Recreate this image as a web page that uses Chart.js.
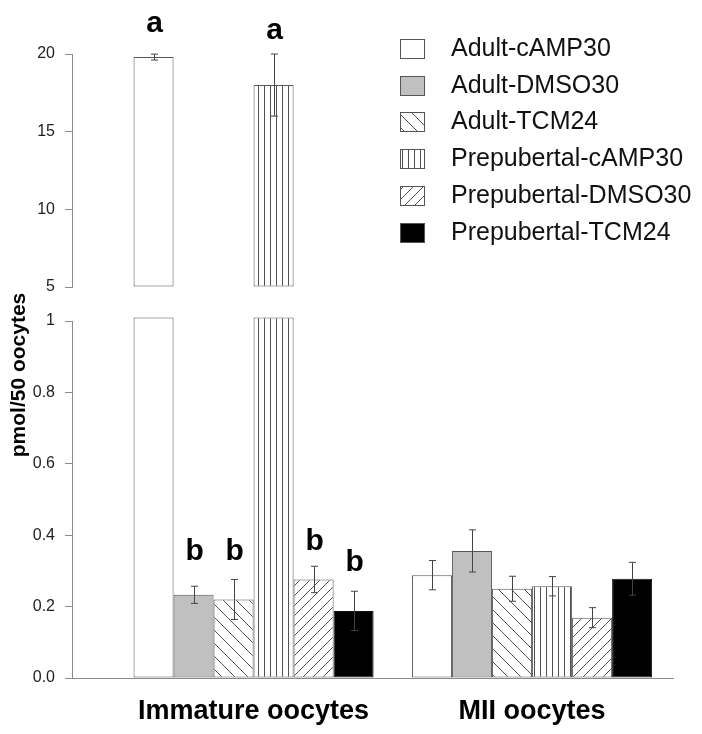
<!DOCTYPE html>
<html>
<head>
<meta charset="utf-8">
<script src="https://cdn.jsdelivr.net/npm/chart.js@4.4.1/dist/chart.umd.min.js"></script>
<style>
html, body { margin: 0; padding: 0; background: #ffffff; }
#wrap { position: relative; width: 702px; height: 734px; }
#wrap canvas { position: absolute; left: 0; top: 0; }
</style>
</head>
<body>
<div id="wrap">
  <canvas id="topPanel" width="702" height="734"></canvas>
  <canvas id="bottomPanel" width="702" height="734"></canvas>
</div>
<script>
// ---------------- data ----------------
const categories = ['Immature oocytes', 'MII oocytes'];
const seriesNames = ['Adult-cAMP30', 'Adult-DMSO30', 'Adult-TCM24',
                     'Prepubertal-cAMP30', 'Prepubertal-DMSO30', 'Prepubertal-TCM24'];

const adultCAMP30 = [19.8, 0.288];
const adultDMSO30 = [0.233, 0.356];
const adultTCM24  = [0.220, 0.250];
const prepCAMP30  = [18.0, 0.257];
const prepDMSO30  = [0.276, 0.169];
const prepTCM24   = [0.188, 0.278];

const adultCAMP30Err = [0.19, 0.041];
const adultDMSO30Err = [0.024, 0.059];
const adultTCM24Err  = [0.056, 0.035];
const prepCAMP30Err  = [2.0, 0.027];
const prepDMSO30Err  = [0.037, 0.028];
const prepTCM24Err   = [0.055, 0.046];

const adultCAMP30Letters = ['a', ''];
const adultDMSO30Letters = ['b', ''];
const adultTCM24Letters  = ['b', ''];
const prepCAMP30Letters  = ['a', ''];
const prepDMSO30Letters  = ['b', ''];
const prepTCM24Letters   = ['b', ''];

// letter baseline heights (data units of the panel the bar belongs to)
const adultCAMP30LetterY = [21.42, null];
const adultDMSO30LetterY = [0.331, null];
const adultTCM24LetterY  = [0.331, null];
const prepCAMP30LetterY  = [20.97, null];
const prepDMSO30LetterY  = [0.359, null];
const prepTCM24LetterY   = [0.300, null];

const topTicks = [5, 10, 15, 20];
const bottomTickLabels = ['0.0', '0.2', '0.4', '0.6', '0.8', '1'];
const yTitle = 'pmol/50 oocytes';

// ---------------- styles ----------------
const FONT = '"Liberation Sans", Arial, Helvetica, sans-serif';
const BORDER = '#555555';
const AXIS = '#8a8a8a';
const bottomMin = 0, bottomMax = 1, bottomCap = 1.01;
const topMin = 5, topMax = 20;

function makePattern(kind) {
  const c = document.createElement('canvas');
  let w = 10, h = 10;
  if (kind === 'back') { w = 13; h = 13; }
  if (kind === 'fwd') { w = 10; h = 10; }
  if (kind === 'vert') { w = 6; h = 6; }
  c.width = w; c.height = h;
  const g = c.getContext('2d');
  g.fillStyle = '#ffffff'; g.fillRect(0, 0, w, h);
  g.strokeStyle = '#505050'; g.lineWidth = 1;
  g.beginPath();
  if (kind === 'back') {
    for (let k = -1; k <= 1; k++) { g.moveTo(k * w, 0); g.lineTo(k * w + w, h); }
  } else if (kind === 'fwd') {
    for (let k = -1; k <= 1; k++) { g.moveTo(k * w, h); g.lineTo(k * w + w, 0); }
  } else if (kind === 'vert') {
    g.moveTo(0.5, 0); g.lineTo(0.5, h);
  }
  g.stroke();
  const probe = document.createElement('canvas').getContext('2d');
  return probe.createPattern(c, 'repeat');
}

const fills = ['#ffffff', '#c0c0c0', makePattern('back'), makePattern('vert'), makePattern('fwd'), '#000000'];
const borders = [BORDER, BORDER, BORDER, BORDER, BORDER, '#111111'];

const series = [
  { values: adultCAMP30, err: adultCAMP30Err, letters: adultCAMP30Letters, letterY: adultCAMP30LetterY },
  { values: adultDMSO30, err: adultDMSO30Err, letters: adultDMSO30Letters, letterY: adultDMSO30LetterY },
  { values: adultTCM24,  err: adultTCM24Err,  letters: adultTCM24Letters,  letterY: adultTCM24LetterY },
  { values: prepCAMP30,  err: prepCAMP30Err,  letters: prepCAMP30Letters,  letterY: prepCAMP30LetterY },
  { values: prepDMSO30,  err: prepDMSO30Err,  letters: prepDMSO30Letters,  letterY: prepDMSO30LetterY },
  { values: prepTCM24,   err: prepTCM24Err,   letters: prepTCM24Letters,   letterY: prepTCM24LetterY }
];

const panelOf = v => (v > bottomMax ? 'top' : 'bottom');

// x positions: category i sits at i+1 on a linear scale
const xMin = 0.348, xMax = 2.506;

function buildDatasets(panel) {
  return series.map((s, i) => ({
    label: seriesNames[i],
    data: s.values.map((v, j) => ({
      x: j + 1,
      y: panel === 'top' ? (v > bottomMax ? v : null) : Math.min(v, bottomCap)
    })),
    backgroundColor: fills[i],
    borderColor: borders[i],
    borderWidth: 1,
    borderSkipped: false,
    base: panel === 'top' ? topMin : bottomMin,
    categoryPercentage: 0.862,
    barPercentage: 1.0,
    clip: 10
  }));
}

const decorPlugin = {
  id: 'decor',
  afterDatasetsDraw(chart) {
    const panel = chart.options.plugins.decor.panel;
    const ctx = chart.ctx;
    const ys = chart.scales.y;
    series.forEach((s, di) => {
      const meta = chart.getDatasetMeta(di);
      s.values.forEach((v, j) => {
        if (panelOf(v) !== panel) return;
        const bar = meta.data[j];
        if (!bar) return;
        const x = Math.round(bar.x) + 0.5;
        const e = s.err[j];
        if (e) {
          const yHi = ys.getPixelForValue(v + e);
          const yLo = ys.getPixelForValue(v - e);
          ctx.save();
          ctx.strokeStyle = '#444444';
          ctx.lineWidth = 1;
          ctx.beginPath();
          ctx.moveTo(x, yHi); ctx.lineTo(x, yLo);
          ctx.moveTo(x - 3.5, yHi); ctx.lineTo(x + 3.5, yHi);
          ctx.moveTo(x - 3.5, yLo); ctx.lineTo(x + 3.5, yLo);
          ctx.stroke();
          ctx.restore();
        }
        if (s.letters[j]) {
          ctx.save();
          ctx.fillStyle = '#000000';
          ctx.font = 'bold 30px ' + FONT;
          ctx.textAlign = 'center';
          ctx.textBaseline = 'alphabetic';
          ctx.fillText(s.letters[j], bar.x + 1, ys.getPixelForValue(s.letterY[j]));
          ctx.restore();
        }
      });
    });
  },
  afterDraw(chart) {
    const panel = chart.options.plugins.decor.panel;
    const ctx = chart.ctx;
    if (panel === 'top') {
      // legend
      chart.data.datasets.forEach((ds, i) => {
        const y0 = 39 + i * 36.7;
        ctx.save();
        ctx.fillStyle = ds.backgroundColor;
        ctx.fillRect(400, Math.round(y0), 24, 19);
        ctx.strokeStyle = BORDER;
        ctx.lineWidth = 1;
        ctx.strokeRect(400.5, Math.round(y0) + 0.5, 24, 19);
        ctx.fillStyle = '#111111';
        ctx.font = '25px ' + FONT;
        ctx.textAlign = 'left';
        ctx.textBaseline = 'middle';
        ctx.fillText(ds.label, 451, Math.round(y0) + 10);
        ctx.restore();
      });
    } else {
      ctx.save();
      ctx.translate(19, 375);
      ctx.rotate(-Math.PI / 2);
      ctx.fillStyle = '#000000';
      ctx.font = 'bold 21px ' + FONT;
      ctx.textAlign = 'center';
      ctx.textBaseline = 'middle';
      ctx.fillText(yTitle, 0, 0);
      ctx.restore();
    }
  }
};

function xScale(show) {
  return {
    type: 'linear',
    min: xMin,
    max: xMax,
    offset: false,
    display: show,
    afterBuildTicks: sc => { sc.ticks = categories.map((c, i) => ({ value: i + 1 })); },
    afterFit: sc => { if (show) sc.height = 56; },
    grid: { display: false, drawTicks: false, offset: false },
    border: { display: true, color: AXIS, width: 1 },
    ticks: {
      autoSkip: false,
      maxRotation: 0,
      padding: 17,
      color: '#000000',
      font: { family: FONT, size: 27, weight: 'bold' },
      callback: v => categories[Math.round(v) - 1]
    }
  };
}

function yScale(panel) {
  const isTop = panel === 'top';
  return {
    type: 'linear',
    min: isTop ? topMin : bottomMin,
    max: isTop ? topMax : bottomMax,
    afterFit: sc => { sc.width = 72; },
    afterBuildTicks: sc => {
      sc.ticks = isTop ? topTicks.map(v => ({ value: v }))
                       : bottomTickLabels.map(l => ({ value: parseFloat(l) }));
    },
    grid: { drawOnChartArea: false, drawTicks: true, tickLength: 7, color: AXIS },
    border: { display: true, color: AXIS, width: 1 },
    ticks: {
      padding: 10,
      color: '#222222',
      font: { family: FONT, size: 16 },
      callback: (v, i) => isTop ? String(topTicks[i]) : bottomTickLabels[i]
    }
  };
}

function makeChart(id, panel) {
  const isTop = panel === 'top';
  return new Chart(document.getElementById(id), {
    type: 'bar',
    data: { datasets: buildDatasets(panel) },
    options: {
      responsive: false,
      animation: false,
      devicePixelRatio: 1,
      layout: { padding: isTop ? { top: 54, left: 0, right: 29, bottom: 447 }
                               : { top: 321, left: 0, right: 29, bottom: 0 } },
      plugins: {
        legend: { display: false },
        tooltip: { enabled: false },
        decor: { panel: panel }
      },
      scales: { x: xScale(!isTop), y: yScale(panel) }
    },
    plugins: [decorPlugin]
  });
}

makeChart('topPanel', 'top');
makeChart('bottomPanel', 'bottom');
</script>
</body>
</html>
